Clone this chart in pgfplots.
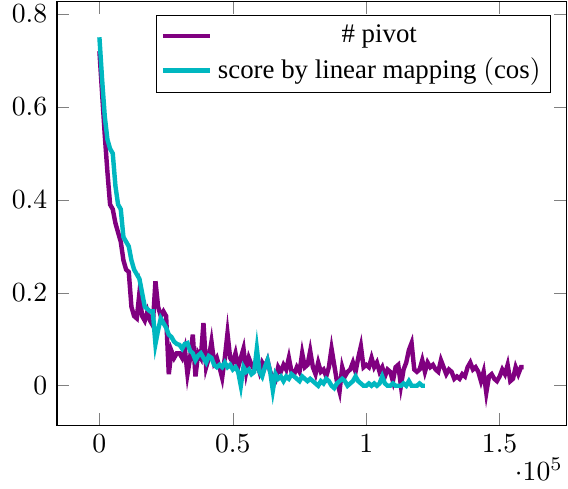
\documentclass[border=0pt]{standalone}
\usepackage{fontspec}
\setmainfont{Liberation Serif}
\usepackage{pgfplots}
\pgfplotsset{compat=1.18}
\definecolor{mypurple}{RGB}{128,0,128}
\definecolor{mycyan}{RGB}{0,183,192}
\begin{document}
\begin{tikzpicture}
\begin{axis}[
  scale only axis,
  width=184pt, height=153pt,
  xmin=-15900, xmax=174900,
  ymin=-0.085, ymax=0.826,
  legend pos=north east,
  legend cell align=center,
  legend style={font=\fontsize{9.7pt}{11pt}\selectfont, inner sep=1.5pt},
  every x tick scale label/.style={at={(rel axis cs:1,0)}, anchor=north east, inner sep=0pt, yshift=-11.5pt, xshift=-1pt},
]
\addplot[mypurple, ultra thick] coordinates {
(0,0.72) (1000,0.63) (2000,0.54) (3000,0.46) (4000,0.39) (5000,0.38) (6000,0.35) (7000,0.33) (8000,0.31) (9000,0.27)
(10000,0.25) (11000,0.245) (12000,0.17) (13000,0.15) (14000,0.145) (15000,0.20) (16000,0.15) (17000,0.14) (18000,0.16) (19000,0.14)
(20000,0.13) (21000,0.225) (22000,0.17) (23000,0.15) (24000,0.16) (25000,0.15) (26000,0.025) (27000,0.075) (28000,0.06) (29000,0.07)
(30000,0.07) (31000,0.06) (32000,0.08) (33000,0.025) (34000,0.06) (35000,0.11) (36000,0.02) (37000,0.07) (38000,0.06) (39000,0.135)
(40000,0.04) (41000,0.06) (42000,0.095) (43000,0.05) (44000,0.06) (45000,0.04) (46000,0.017) (47000,0.06) (48000,0.113) (49000,0.06)
(50000,0.05) (51000,0.07) (52000,0.04) (53000,0.06) (54000,0.08) (55000,0.03) (56000,0.06) (57000,0.045) (58000,0.035) (59000,0.05)
(60000,0.03) (61000,0.05) (62000,0.04) (63000,0.055) (64000,0.03) (65000,0.02) (66000,0.013) (67000,0.04) (68000,0.03) (69000,0.045)
(70000,0.035) (71000,0.06) (72000,0.03) (73000,0.025) (74000,0.04) (75000,0.03) (76000,0.07) (77000,0.04) (78000,0.045) (79000,0.075)
(80000,0.04) (81000,0.025) (82000,0.05) (83000,0.03) (84000,0.035) (85000,0.02) (86000,0.04) (87000,0.08) (88000,0.045) (89000,0.01)
(90000,-0.012) (91000,0.04) (92000,0.02) (93000,0.03) (94000,0.035) (95000,0.05) (96000,0.03) (97000,0.06) (98000,0.085) (99000,0.04)
(100000,0.045) (101000,0.04) (102000,0.06) (103000,0.04) (104000,0.05) (105000,0.03) (106000,0.04) (107000,0.02) (108000,0.035) (109000,0.03)
(110000,0.01) (111000,0.04) (112000,0.045) (113000,0.0) (114000,0.035) (115000,0.05) (116000,0.077) (117000,0.092) (118000,0.035) (119000,0.03)
(120000,0.035) (121000,0.055) (122000,0.03) (123000,0.05) (124000,0.04) (125000,0.045) (126000,0.035) (127000,0.03) (128000,0.055) (129000,0.04)
(130000,0.025) (131000,0.035) (132000,0.03) (133000,0.015) (134000,0.02) (135000,0.015) (136000,0.025) (137000,0.02) (138000,0.04) (139000,0.05)
(140000,0.035) (141000,0.04) (142000,0.03) (143000,0.01) (144000,0.03) (145000,-0.015) (146000,0.02) (147000,0.025) (148000,0.015) (149000,0.01)
(150000,0.02) (151000,0.035) (152000,0.025) (153000,0.045) (154000,0.01) (155000,0.015) (156000,0.04) (157000,0.025) (158000,0.04) (159000,0.04)
};
\addlegendentry{\# pivot}
\addplot[mycyan, ultra thick] coordinates {
(0,0.75) (1000,0.66) (2000,0.58) (3000,0.53) (4000,0.51) (5000,0.50) (6000,0.43) (7000,0.39) (8000,0.38) (9000,0.32)
(10000,0.31) (11000,0.30) (12000,0.27) (13000,0.25) (14000,0.24) (15000,0.23) (16000,0.20) (17000,0.17) (18000,0.165) (19000,0.16)
(20000,0.16) (21000,0.09) (22000,0.12) (23000,0.145) (24000,0.135) (25000,0.125) (26000,0.11) (27000,0.105) (28000,0.095) (29000,0.09)
(30000,0.088) (31000,0.08) (32000,0.09) (33000,0.092) (34000,0.075) (35000,0.07) (36000,0.055) (37000,0.065) (38000,0.07) (39000,0.06)
(40000,0.05) (41000,0.064) (42000,0.06) (43000,0.045) (44000,0.04) (45000,0.045) (46000,0.04) (47000,0.05) (48000,0.04) (49000,0.045)
(50000,0.035) (51000,0.04) (52000,0.03) (53000,0.0) (54000,0.04) (55000,0.03) (56000,0.035) (57000,0.025) (58000,0.03) (59000,0.08)
(60000,0.03) (61000,0.02) (62000,0.04) (63000,0.055) (64000,0.03) (65000,-0.01) (66000,0.025) (67000,0.015) (68000,0.02) (69000,0.01)
(70000,0.02) (71000,0.015) (72000,0.025) (73000,0.02) (74000,0.015) (75000,0.01) (76000,0.02) (77000,0.015) (78000,0.01) (79000,0.015)
(80000,0.01) (81000,0.005) (82000,0.0) (83000,0.01) (84000,0.005) (85000,0.015) (86000,0.01) (87000,0.0) (88000,-0.005) (89000,0.005)
(90000,0.01) (91000,0.015) (92000,0.01) (93000,0.0) (94000,0.005) (95000,0.01) (96000,0.02) (97000,0.01) (98000,0.005) (99000,0.0)
(100000,0.0) (101000,0.005) (102000,0.0) (103000,0.005) (104000,0.0) (105000,0.005) (106000,0.02) (107000,0.005) (108000,0.0) (109000,0.0)
(110000,0.005) (111000,0.0) (112000,0.0) (113000,0.0) (114000,0.005) (115000,0.0) (116000,0.01) (117000,0.0) (118000,0.0) (119000,0.0)
(120000,0.005) (121000,0.0) (122000,0.0)
};
\addlegendentry{score by linear mapping $(\cos)$}
\end{axis}
\pgfresetboundingbox
\useasboundingbox ([xshift=-20.6pt,yshift=-22.8pt]current axis.south west) rectangle ([xshift=0.7pt,yshift=0.7pt]current axis.north east);
\end{tikzpicture}
\end{document}
